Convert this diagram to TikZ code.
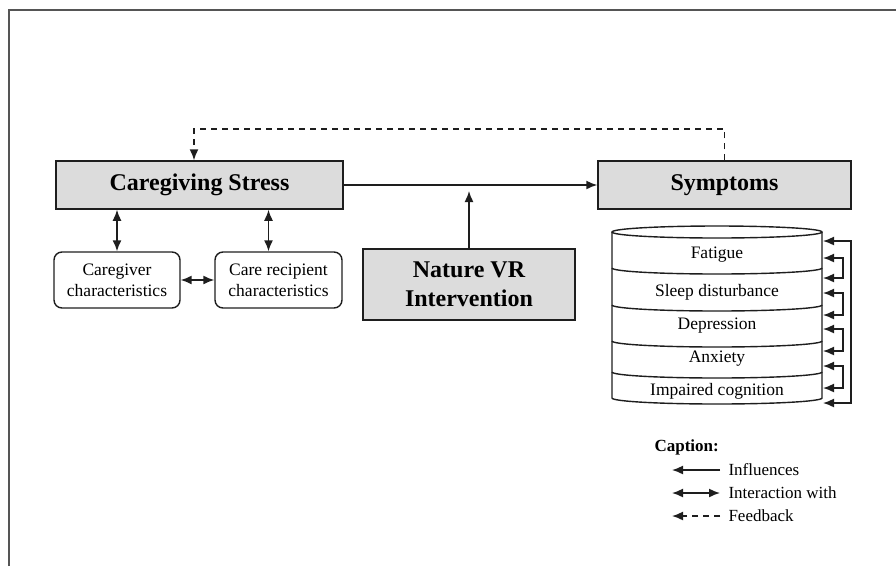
\documentclass[tikz,border=0pt]{standalone}
\usepackage{fontspec}
\setmainfont{Liberation Serif}
\usepackage{xcolor}
\usetikzlibrary{positioning,arrows.meta,calc}
\definecolor{boxgray}{RGB}{220,220,220}
\definecolor{framegray}{RGB}{85,85,85}
\definecolor{inkgray}{RGB}{30,30,30}
\tikzset{
    main box/.style={rectangle, draw=inkgray, line width=1.5pt, fill=boxgray, align=center, inner sep=0pt, font=\bfseries\fontsize{24}{29}\selectfont},
    trait box/.style={rectangle, rounded corners=8pt, draw=inkgray, line width=1.4pt, align=center, inner sep=0pt, font=\fontsize{17.5}{21}\selectfont},
    band label/.style={font=\fontsize{17.5}{20}\selectfont},
    legend label/.style={anchor=west, font=\fontsize{17}{20}\selectfont},
    influence/.style={-{Latex[length=11pt,width=9pt]}, line width=1.5pt, draw=inkgray},
    interaction/.style={{Latex[length=11pt,width=9pt]}-{Latex[length=11pt,width=9pt]}, line width=1.5pt, draw=inkgray},
    feedback/.style={-{Latex[length=11pt,width=9pt]}, line width=1.5pt, draw=inkgray, dash pattern=on 6pt off 5pt}
}
\begin{document}
\begin{tikzpicture}[x=1pt,y=-1pt]
\useasboundingbox (0,0) rectangle (896,566);
\draw[framegray, line width=1.5pt] (9,566) -- (9,10) -- (896,10);

% main boxes
\node[main box, minimum width=287pt, minimum height=48pt] (stress) at (199.5,185) {Caregiving Stress};
\node[main box, minimum width=253pt, minimum height=48pt] (symptoms) at (724.5,185) {Symptoms};
\node[main box, minimum width=212pt, minimum height=71pt] (nature) at (469,284.5) {Nature VR\\Intervention};

% characteristics
\node[trait box, minimum width=126pt, minimum height=56pt] (giver) at (117,280) {Caregiver\\characteristics};
\node[trait box, minimum width=127pt, minimum height=56pt] (recipient) at (278.5,280) {Care recipient\\characteristics};

\draw[influence] (stress.east) -- (symptoms.west);
\draw[influence] (nature.north) -- ($(nature.north |- stress.east)+(0,6)$);
\draw[interaction] (giver.north) -- (giver.north |- stress.south);
\draw[interaction] ($(recipient.north)+(-10,0)$) -- ($(recipient.north |- stress.south)+(-10,0)$);
\draw[interaction] (giver.east) -- (recipient.west);

% feedback loop
\coordinate (fb) at (194,129);
\draw[feedback] (symptoms.north) |- (fb) -- (fb |- stress.north);

% symptom cylinder
\draw[inkgray, line width=1.4pt, fill=white] (612,232) -- (612,398) arc[start angle=180, end angle=0, x radius=105, y radius=6] -- (822,232);
\draw[inkgray, line width=1.4pt, fill=white] (717,232) ellipse[x radius=105, y radius=6];
\foreach \yb in {268,305,341,372}
    \draw[inkgray, line width=1.4pt] (822,\yb) arc[start angle=0, end angle=180, x radius=105, y radius=6];

\node[band label] (fatigue) at (717,255) {Fatigue};
\node[band label] (sleep) at (717,292) {Sleep disturbance};
\node[band label] (depression) at (717,326) {Depression};
\node[band label] (anxiety) at (717,359) {Anxiety};
\node[band label] (cognition) at (717,391) {Impaired cognition};

\coordinate (loopin) at (823,241);
\coordinate (loopout) at (823,403);
\draw[interaction] (loopin) -- (851,241) -- (851,403) -- (loopout);
\foreach \ya/\yb in {258/278, 293/315, 329/351, 366/388}
    \draw[interaction] (823,\ya) -- (843,\ya) -- (843,\yb) -- (823,\yb);

% caption
\node[anchor=west, font=\bfseries\fontsize{17}{20}\selectfont] (capt) at (651,447) {Caption:};
\node[legend label] (lgA) at (725,470) {Influences};
\node[legend label] (lgB) at (725,493) {Interaction with};
\node[legend label] (lgC) at (725,516) {Feedback};
\draw[influence] ($(lgA.west)+(-5,0)$) -- ++(-48,0);
\draw[interaction] ($(lgB.west)+(-5,0)$) -- ++(-48,0);
\draw[feedback] ($(lgC.west)+(-5,0)$) -- ++(-48,0);
\end{tikzpicture}
\end{document}
